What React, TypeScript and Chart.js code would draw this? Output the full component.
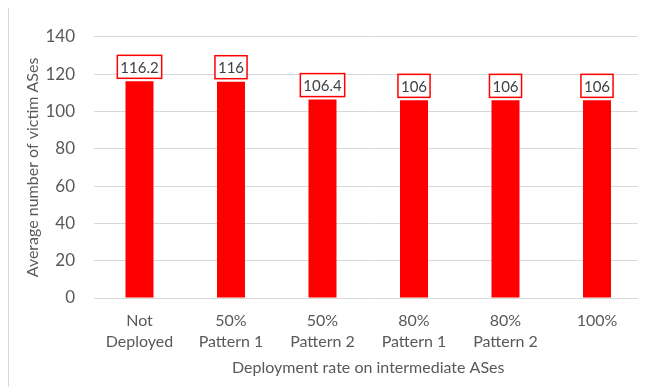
import React, { useEffect, useRef } from "react";
import { Chart, registerables } from "chart.js";

Chart.register(...registerables);

const categories: (string | string[])[] = [
  ["Not", "Deployed"],
  ["50%", "Pattern 1"],
  ["50%", "Pattern 2"],
  ["80%", "Pattern 1"],
  ["80%", "Pattern 2"],
  "100%",
];
const victimValues: number[] = [116.2, 116, 106.4, 106, 106, 106];
const yTicks = { min: 0, max: 140, step: 20 };
const yTitle = "Average number of victim ASes";
const xTitle = "Deployment rate on intermediate ASes";

const FONT = "Lato, 'Open Sans', sans-serif";

const boxedLabels = {
  id: "boxedLabels",
  afterDatasetsDraw(chart: any) {
    const ctx = chart.ctx;
    const meta = chart.getDatasetMeta(0);
    const data = chart.data.datasets[0].data as number[];
    ctx.save();
    ctx.font = `15px ${FONT}`;
    ctx.textAlign = "center";
    ctx.textBaseline = "middle";
    meta.data.forEach((bar: any, i: number) => {
      const text = String(data[i]);
      const w = ctx.measureText(text).width + 6;
      const h = 23;
      const bottom = bar.y - 3;
      const top = bottom - h;
      const left = bar.x - w / 2;
      ctx.fillStyle = "#ffffff";
      ctx.fillRect(left, top, w, h);
      ctx.strokeStyle = "#ff0000";
      ctx.lineWidth = 1.5;
      ctx.strokeRect(left, top, w, h);
      ctx.fillStyle = "#404040";
      ctx.fillText(text, bar.x, top + h / 2 + 1);
    });
    ctx.restore();
  },
};

export default function App() {
  const ref = useRef<HTMLCanvasElement | null>(null);
  useEffect(() => {
    if (!ref.current) return;
    const chart = new Chart(ref.current, {
      type: "bar",
      data: {
        labels: categories,
        datasets: [
          {
            data: victimValues,
            backgroundColor: "#ff0000",
            borderWidth: 0,
            barPercentage: 0.306,
            categoryPercentage: 1,
          },
        ],
      },
      options: {
        responsive: false,
        animation: false,
        layout: { padding: { top: 16, right: 3.25, left: 0, bottom: 0 } },
        plugins: {
          legend: { display: false },
          tooltip: { enabled: false },
        },
        scales: {
          x: {
            grid: { display: false, drawTicks: false },
            border: { display: false },
            ticks: {
              color: "#595959",
              font: { family: FONT, size: 16, lineHeight: 21 / 16 },
              padding: 12.5,
              maxRotation: 0,
              autoSkip: false,
            },
            title: {
              display: true,
              text: xTitle,
              color: "#595959",
              font: { family: FONT, size: 16, lineHeight: 1.2 },
              padding: { top: 0, bottom: 9.4 },
            },
            afterFit(scale: any) {
              scale.height = 89;
            },
          },
          y: {
            min: yTicks.min,
            max: yTicks.max,
            grid: { color: "#d9d9d9", lineWidth: 1, drawTicks: false },
            border: { display: false },
            ticks: {
              stepSize: yTicks.step,
              color: "#595959",
              font: { family: FONT, size: 17 },
              padding: 18.75,
            },
            title: {
              display: true,
              text: yTitle,
              color: "#595959",
              font: { family: FONT, size: 16, lineHeight: 1.2 },
              padding: { top: 14.4, bottom: 0 },
            },
            afterFit(scale: any) {
              scale.width = 84.75;
            },
          },
        },
      },
      plugins: [boxedLabels],
    });
    return () => chart.destroy();
  }, []);

  return (
    <div
      style={{
        marginTop: -1,
        width: 638,
        height: 380,
        borderTop: "1px solid #d9d9d9",
        borderLeft: "1px solid #d9d9d9",
        boxSizing: "border-box",
        overflow: "hidden",
      }}
    >
      <canvas ref={ref} width={637} height={379} style={{ display: "block" }} />
    </div>
  );
}
